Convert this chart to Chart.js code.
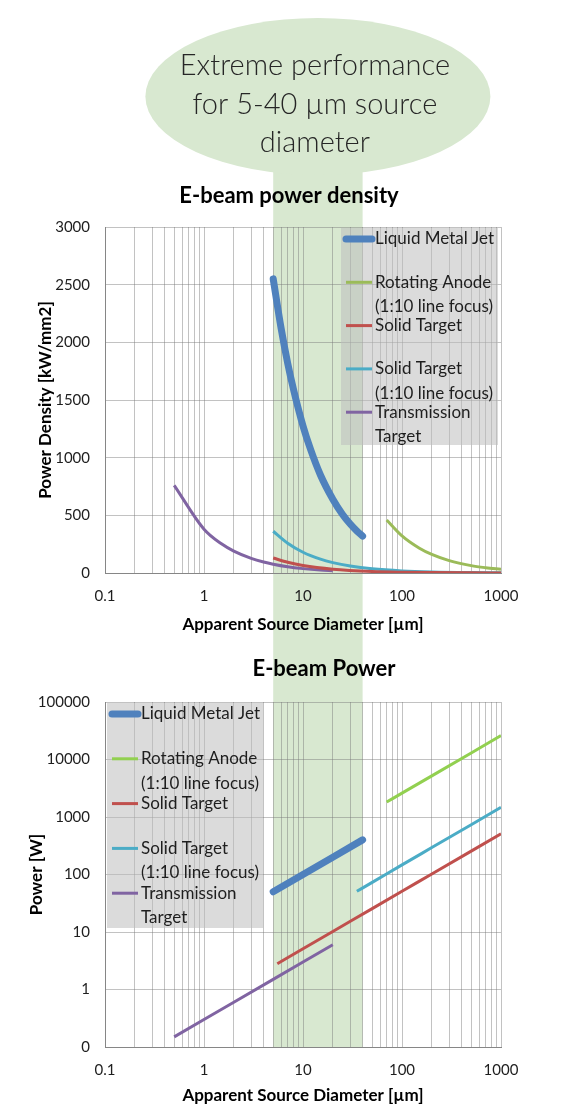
<!DOCTYPE html>
<html>
<head>
<meta charset="utf-8">
<script src="https://cdn.jsdelivr.net/npm/chart.js@4/dist/chart.umd.min.js"></script>
<style>
  html, body { margin: 0; padding: 0; background: #fff; }
  #wrap { position: relative; width: 573px; height: 1106px; overflow: hidden; }
  canvas { position: absolute; left: 0; }
  #densityChart { top: 0; }
  #powerChart { top: 645px; }
</style>
</head>
<body>
<div id="wrap">
  <canvas id="densityChart" width="573" height="645"></canvas>
  <canvas id="powerChart" width="573" height="461"></canvas>
</div>
<script>
// ---- data ----
// "\n" marks where the legend breaks the name
const seriesNames = ['Liquid Metal Jet', 'Rotating Anode\n(1:10 line focus)', 'Solid Target',
                     'Solid Target\n(1:10 line focus)', 'Transmission\nTarget'];
const bubbleLines = ['Extreme performance', 'for 5-40 \u00b5m source', 'diameter'];
const bandRange = [5, 40];

const xTickValues = [0.1, 1, 10, 100, 1000];
const xTickLabels = ['0.1', '1', '10', '100', '1000'];
const powerTickValues = [0.1, 1, 10, 100, 1000, 10000, 100000];
const powerTickLabels = ['0', '1', '10', '100', '1000', '10000', '100000'];

// power density [kW/mm2]
const lmjDensityDiam = [5, 6, 7, 8, 10, 12, 15, 20, 25, 30, 35, 40];
const lmjDensity = [2550, 2125, 1820, 1595, 1275, 1065, 850, 640, 510, 425, 365, 320];
const raDensityDiam = [70, 100, 150, 200, 300, 500, 700, 1000];
const raDensity = [460, 322, 215, 161, 107, 64, 46, 32];
const stDensityDiam = [5, 7, 10, 20, 50, 100, 200, 500, 1000];
const stDensity = [130, 93, 65, 33, 13, 6.5, 3.3, 1.3, 0.7];
const stlfDensityDiam = [5, 7, 10, 15, 20, 30, 50, 100, 200, 500, 1000];
const stlfDensity = [362, 258, 180, 120, 90, 60, 36, 18, 9, 3.6, 1.8];
const ttDensityDiam = [0.5, 1, 1.5, 2, 3, 4, 5, 7, 10, 15, 20];
const ttDensity = [760, 380, 253, 190, 127, 95, 76, 54, 38, 25, 19];

// power [W]
const lmjPowerDiam = [5, 10, 20, 40];
const lmjPower = [50, 100, 200, 400];
const raPowerDiam = [70, 100, 200, 500, 1000];
const raPower = [1820, 2600, 5200, 13000, 26000];
const stPowerDiam = [5.5, 10, 20, 50, 100, 200, 500, 1000];
const stPower = [2.8, 5.1, 10.2, 25.5, 51, 102, 255, 510];
const stlfPowerDiam = [35, 50, 100, 200, 500, 1000];
const stlfPower = [51, 73, 147, 294, 735, 1470];
const ttPowerDiam = [0.5, 1, 2, 5, 10, 20];
const ttPower = [0.15, 0.3, 0.6, 1.5, 3, 6];

// ---- styling ----
const bandColor = '#d8e8d0';
const gridColor = 'rgba(120,120,120,0.45)';
const axisColor = '#868686';
const textColor = '#1e1e1e';
const fontFamily = 'Lato, "Noto Sans", sans-serif';

const pts = (xs, ys) => xs.map((x, i) => ({ x, y: ys[i] }));
const near = (a, b) => Math.abs(a - b) < b * 1e-6;

// every 1..9 step of each decade gets a grid line, decades get labels
const xGridValues = [];
xTickValues.slice(0, -1).forEach(d => {
  for (let k = 1; k < 10; k++) xGridValues.push(Number((d * k).toPrecision(6)));
});
xGridValues.push(xTickValues[xTickValues.length - 1]);

function line(label, data, color, width) {
  return {
    label, data, borderColor: color, backgroundColor: color, borderWidth: width,
    pointRadius: 0, pointHoverRadius: 0, borderCapStyle: width > 4 ? 'round' : 'butt',
    borderJoinStyle: 'round', cubicInterpolationMode: 'monotone', fill: false
  };
}

// band + speech bubble behind everything, chart heading on top
const bandPlugin = {
  id: 'band',
  beforeDraw(chart, args, o) {
    const { ctx, chartArea, scales } = chart;
    const x1 = scales.x.getPixelForValue(bandRange[0]);
    const x2 = scales.x.getPixelForValue(bandRange[1]);
    const yEnd = o.toCanvasBottom ? chart.height : chartArea.bottom;
    ctx.save();
    ctx.fillStyle = bandColor;
    ctx.fillRect(x1, o.fromY, x2 - x1, yEnd - o.fromY);
    if (o.bubble) {
      const cx = scales.x.getPixelForValue(Math.sqrt(bandRange[0] * bandRange[1]));
      ctx.beginPath();
      ctx.ellipse(cx, 96.5, 172.5, 78.5, 0, 0, Math.PI * 2);
      ctx.fill();
      ctx.fillStyle = '#262626';
      ctx.font = '300 29px ' + fontFamily;
      ctx.textAlign = 'center';
      ctx.textBaseline = 'alphabetic';
      bubbleLines.forEach((t, i) => ctx.fillText(t, cx - 3, 75 + i * 38.5));
    }
    ctx.restore();
  },
  afterDraw(chart, args, o) {
    const ctx = chart.ctx;
    ctx.save();
    ctx.fillStyle = '#000';
    ctx.font = 'bold 22px ' + fontFamily;
    ctx.textAlign = 'center';
    ctx.textBaseline = 'alphabetic';
    ctx.fillText(o.title, o.titleX, o.titleY);
    ctx.restore();
  }
};

// grey legend box, Excel style
const boxLegend = {
  id: 'boxLegend',
  afterDatasetsDraw(chart, args, o) {
    const { ctx, chartArea } = chart;
    const left = o.side === 'right' ? chartArea.right - o.offset - o.width : chartArea.left + o.offset;
    const top = chartArea.top + 1;
    ctx.save();
    ctx.fillStyle = 'rgba(190,190,190,0.55)';
    ctx.fillRect(left, top, o.width, o.height);
    ctx.font = '17px ' + fontFamily;
    ctx.textBaseline = 'middle';
    ctx.textAlign = 'left';
    chart.data.datasets.forEach((ds, i) => {
      const y = top + o.first + i * o.pitch;
      ctx.strokeStyle = ds.borderColor;
      ctx.lineWidth = ds.borderWidth;
      ctx.lineCap = ds.borderCapStyle;
      ctx.beginPath();
      ctx.moveTo(left + 5, y);
      ctx.lineTo(left + 31, y);
      ctx.stroke();
      ctx.fillStyle = textColor;
      ds.label.split('\n').forEach((t, j) => ctx.fillText(t, left + 34, y + j * 24.5));
    });
    ctx.restore();
  }
};

function xScale(height, titlePad) {
  return {
    type: 'logarithmic', min: 0.1, max: 1000,
    afterBuildTicks: s => { s.ticks = xGridValues.map(v => ({ value: v })); },
    afterFit: s => { s.height = height; },
    ticks: {
      autoSkip: false, maxRotation: 0, padding: 14, color: textColor,
      font: { family: fontFamily, size: 15 },
      callback: v => {
        const i = xTickValues.findIndex(t => near(v, t));
        return i >= 0 ? xTickLabels[i] : '';
      }
    },
    grid: { color: gridColor, drawTicks: false },
    border: { color: axisColor },
    title: {
      display: true, text: 'Apparent Source Diameter [\u00b5m]', color: '#000',
      font: { family: fontFamily, size: 17, weight: 'bold' }, padding: { top: 0, bottom: titlePad }
    }
  };
}

const yTitle = (text, pad) => ({
  display: true, text, color: '#000',
  font: { family: fontFamily, size: 17, weight: 'bold' }, padding: { top: pad, bottom: 0 }
});

const common = {
  responsive: false, animation: false, devicePixelRatio: 1,
  plugins: { legend: { display: false }, tooltip: { enabled: false } }
};

new Chart(document.getElementById('densityChart'), {
  type: 'line',
  data: {
    datasets: [
      line(seriesNames[0], pts(lmjDensityDiam, lmjDensity), '#4f81bd', 7),
      line(seriesNames[1], pts(raDensityDiam, raDensity), '#9bbb59', 3),
      line(seriesNames[2], pts(stDensityDiam, stDensity), '#c0504d', 3),
      line(seriesNames[3], pts(stlfDensityDiam, stlfDensity), '#4bacc6', 3),
      line(seriesNames[4], pts(ttDensityDiam, ttDensity), '#8064a2', 3)
    ]
  },
  options: {
    ...common,
    layout: { padding: { top: 227, right: 72, left: 0, bottom: 0 } },
    scales: {
      x: xScale(72, 10),
      y: {
        min: 0, max: 3000,
        afterFit: s => { s.width = 105; },
        ticks: {
          stepSize: 500, padding: 15, color: textColor, font: { family: fontFamily, size: 15 },
          callback: v => String(v)
        },
        grid: { color: gridColor, drawTicks: false },
        border: { color: axisColor },
        title: yTitle('Power Density [kW/mm2]', 35)
      }
    },
    plugins: {
      ...common.plugins,
      band: { fromY: 96, toCanvasBottom: true, bubble: true, title: 'E-beam power density', titleX: 289, titleY: 203 },
      boxLegend: { side: 'right', offset: 3, width: 157, height: 217, first: 11, pitch: 43.3 }
    }
  },
  plugins: [bandPlugin, boxLegend]
});

new Chart(document.getElementById('powerChart'), {
  type: 'line',
  data: {
    datasets: [
      line(seriesNames[0], pts(lmjPowerDiam, lmjPower), '#4f81bd', 7),
      line(seriesNames[1], pts(raPowerDiam, raPower), '#92d050', 3),
      line(seriesNames[2], pts(stPowerDiam, stPower), '#c0504d', 3),
      line(seriesNames[3], pts(stlfPowerDiam, stlfPower), '#4bacc6', 3),
      line(seriesNames[4], pts(ttPowerDiam, ttPower), '#8064a2', 3)
    ]
  },
  options: {
    ...common,
    layout: { padding: { top: 57, right: 72, left: 0, bottom: 0 } },
    scales: {
      x: xScale(59, 0),
      y: {
        type: 'logarithmic', min: 0.1, max: 100000,
        afterFit: s => { s.width = 105; },
        afterBuildTicks: s => { s.ticks = powerTickValues.map(v => ({ value: v })); },
        ticks: {
          autoSkip: false, padding: 15, color: textColor, font: { family: fontFamily, size: 15 },
          callback: v => {
            const i = powerTickValues.findIndex(t => near(v, t));
            return i >= 0 ? powerTickLabels[i] : '';
          }
        },
        grid: { color: gridColor, drawTicks: false },
        border: { color: axisColor },
        title: yTitle('Power [W]', 26)
      }
    },
    plugins: {
      ...common.plugins,
      band: { fromY: 0, toCanvasBottom: false, bubble: false, title: 'E-beam Power', titleX: 324, titleY: 31 },
      boxLegend: { side: 'left', offset: 2, width: 156, height: 225, first: 11, pitch: 44.8 }
    }
  },
  plugins: [bandPlugin, boxLegend]
});
</script>
</body>
</html>
